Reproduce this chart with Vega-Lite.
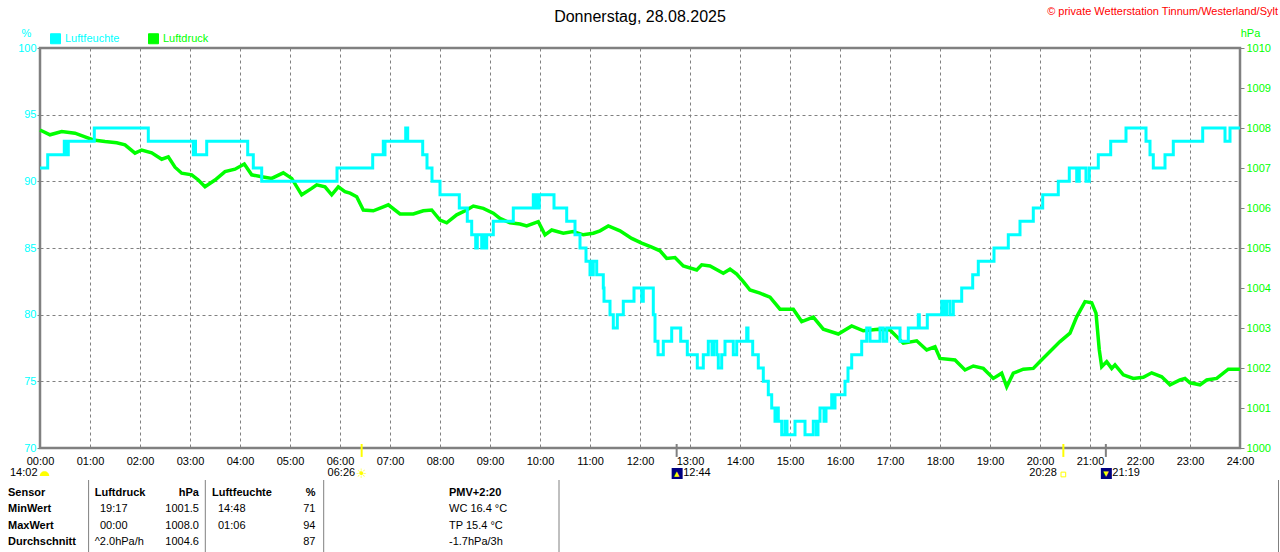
{
  "$schema": "https://vega.github.io/schema/vega-lite/v6.json",
  "width": 1200,
  "height": 400,
  "autosize": {"type": "none"},
  "padding": {"left": 40, "top": 48, "right": 40, "bottom": 104},
  "background": "white",
  "title": {
    "text": "Donnerstag, 28.08.2025",
    "anchor": "middle",
    "frame": "group",
    "font": "Liberation Sans",
    "fontSize": 16,
    "fontWeight": "normal",
    "color": "black",
    "offset": 2,
    "dy": 21
  },
  "datasets": {
    "feuchte": [
      {"h": 0, "rf": 91}, {"h": 0.154, "rf": 92}, {"h": 0.486, "rf": 93}, {"h": 0.51, "rf": 92},
      {"h": 0.53, "rf": 93}, {"h": 0.55, "rf": 92}, {"h": 0.566, "rf": 93}, {"h": 1.086, "rf": 94},
      {"h": 2.166, "rf": 93}, {"h": 3.066, "rf": 92}, {"h": 3.09, "rf": 93}, {"h": 3.11, "rf": 92},
      {"h": 3.334, "rf": 93}, {"h": 4.154, "rf": 92}, {"h": 4.266, "rf": 91}, {"h": 4.434, "rf": 90},
      {"h": 5.94, "rf": 91}, {"h": 6.654, "rf": 92}, {"h": 6.866, "rf": 93}, {"h": 6.88, "rf": 92},
      {"h": 6.9, "rf": 93}, {"h": 7.314, "rf": 94}, {"h": 7.354, "rf": 93}, {"h": 7.654, "rf": 92},
      {"h": 7.74, "rf": 91}, {"h": 7.84, "rf": 90}, {"h": 8.0, "rf": 89}, {"h": 8.386, "rf": 88},
      {"h": 8.546, "rf": 87}, {"h": 8.634, "rf": 86}, {"h": 8.714, "rf": 85}, {"h": 8.746, "rf": 86},
      {"h": 8.834, "rf": 85}, {"h": 8.87, "rf": 86}, {"h": 8.89, "rf": 85}, {"h": 8.934, "rf": 86},
      {"h": 9.066, "rf": 87}, {"h": 9.466, "rf": 88}, {"h": 9.866, "rf": 89}, {"h": 9.9, "rf": 88},
      {"h": 9.93, "rf": 89}, {"h": 9.96, "rf": 88}, {"h": 9.986, "rf": 89}, {"h": 10.28, "rf": 88},
      {"h": 10.534, "rf": 87}, {"h": 10.7, "rf": 86}, {"h": 10.8, "rf": 85}, {"h": 10.92, "rf": 84},
      {"h": 11.0, "rf": 83}, {"h": 11.02, "rf": 84}, {"h": 11.04, "rf": 83}, {"h": 11.066, "rf": 84},
      {"h": 11.134, "rf": 83}, {"h": 11.266, "rf": 82}, {"h": 11.28, "rf": 81}, {"h": 11.4, "rf": 80},
      {"h": 11.466, "rf": 79}, {"h": 11.546, "rf": 80}, {"h": 11.666, "rf": 81}, {"h": 11.88, "rf": 82},
      {"h": 12.034, "rf": 81}, {"h": 12.066, "rf": 82}, {"h": 12.266, "rf": 80}, {"h": 12.3, "rf": 78},
      {"h": 12.36, "rf": 77}, {"h": 12.466, "rf": 78}, {"h": 12.634, "rf": 79}, {"h": 12.814, "rf": 78},
      {"h": 12.946, "rf": 77}, {"h": 13.146, "rf": 76}, {"h": 13.266, "rf": 77}, {"h": 13.366, "rf": 78},
      {"h": 13.44, "rf": 77}, {"h": 13.47, "rf": 78}, {"h": 13.534, "rf": 77}, {"h": 13.566, "rf": 76},
      {"h": 13.634, "rf": 77}, {"h": 13.7, "rf": 78}, {"h": 13.866, "rf": 77}, {"h": 13.934, "rf": 78},
      {"h": 14.134, "rf": 79}, {"h": 14.16, "rf": 78}, {"h": 14.254, "rf": 77}, {"h": 14.366, "rf": 76},
      {"h": 14.466, "rf": 75}, {"h": 14.566, "rf": 74}, {"h": 14.634, "rf": 73}, {"h": 14.7, "rf": 72},
      {"h": 14.72, "rf": 73}, {"h": 14.766, "rf": 72}, {"h": 14.834, "rf": 71}, {"h": 14.9, "rf": 72},
      {"h": 14.94, "rf": 71}, {"h": 15.1, "rf": 72}, {"h": 15.3, "rf": 71}, {"h": 15.466, "rf": 72},
      {"h": 15.53, "rf": 71}, {"h": 15.56, "rf": 72}, {"h": 15.6, "rf": 73}, {"h": 15.68, "rf": 72},
      {"h": 15.72, "rf": 73}, {"h": 15.834, "rf": 74}, {"h": 15.87, "rf": 73}, {"h": 15.9, "rf": 74},
      {"h": 16.1, "rf": 75}, {"h": 16.16, "rf": 76}, {"h": 16.234, "rf": 77}, {"h": 16.434, "rf": 78},
      {"h": 16.534, "rf": 79}, {"h": 16.6, "rf": 78}, {"h": 16.8, "rf": 79}, {"h": 16.866, "rf": 78},
      {"h": 16.934, "rf": 79}, {"h": 17.2, "rf": 78}, {"h": 17.366, "rf": 79}, {"h": 17.566, "rf": 80},
      {"h": 17.586, "rf": 79}, {"h": 17.746, "rf": 80}, {"h": 18.034, "rf": 81}, {"h": 18.08, "rf": 80},
      {"h": 18.134, "rf": 81}, {"h": 18.2, "rf": 80}, {"h": 18.266, "rf": 81}, {"h": 18.434, "rf": 82},
      {"h": 18.654, "rf": 83}, {"h": 18.766, "rf": 84}, {"h": 19.08, "rf": 85}, {"h": 19.366, "rf": 86},
      {"h": 19.6, "rf": 87}, {"h": 19.866, "rf": 88}, {"h": 20.054, "rf": 89}, {"h": 20.366, "rf": 90},
      {"h": 20.586, "rf": 91}, {"h": 20.734, "rf": 90}, {"h": 20.786, "rf": 91}, {"h": 20.92, "rf": 90},
      {"h": 20.986, "rf": 91}, {"h": 21.166, "rf": 92}, {"h": 21.414, "rf": 93}, {"h": 21.72, "rf": 94},
      {"h": 22.12, "rf": 93}, {"h": 22.2, "rf": 92}, {"h": 22.266, "rf": 91}, {"h": 22.5, "rf": 92},
      {"h": 22.666, "rf": 93}, {"h": 23.254, "rf": 94}, {"h": 23.7, "rf": 93}, {"h": 23.8, "rf": 94},
      {"h": 24, "rf": 94}
    ],
    "druck": [
      {"h": 0, "p": 1007.95}, {"h": 0.2, "p": 1007.83}, {"h": 0.434, "p": 1007.91}, {"h": 0.7, "p": 1007.87},
      {"h": 0.9, "p": 1007.78}, {"h": 1.066, "p": 1007.7}, {"h": 1.3, "p": 1007.66}, {"h": 1.534, "p": 1007.63},
      {"h": 1.7, "p": 1007.58}, {"h": 1.9, "p": 1007.37}, {"h": 2.034, "p": 1007.45}, {"h": 2.234, "p": 1007.38},
      {"h": 2.434, "p": 1007.22}, {"h": 2.566, "p": 1007.28}, {"h": 2.7, "p": 1007.02}, {"h": 2.834, "p": 1006.87},
      {"h": 3.034, "p": 1006.83}, {"h": 3.166, "p": 1006.7}, {"h": 3.3, "p": 1006.53}, {"h": 3.5, "p": 1006.7},
      {"h": 3.7, "p": 1006.91}, {"h": 3.9, "p": 1006.97}, {"h": 4.086, "p": 1007.1}, {"h": 4.234, "p": 1006.83},
      {"h": 4.434, "p": 1006.78}, {"h": 4.634, "p": 1006.74}, {"h": 4.866, "p": 1006.88}, {"h": 5.034, "p": 1006.74},
      {"h": 5.234, "p": 1006.33}, {"h": 5.434, "p": 1006.49}, {"h": 5.534, "p": 1006.58}, {"h": 5.7, "p": 1006.53},
      {"h": 5.834, "p": 1006.33}, {"h": 5.966, "p": 1006.53}, {"h": 6.1, "p": 1006.41}, {"h": 6.2, "p": 1006.37},
      {"h": 6.334, "p": 1006.28}, {"h": 6.466, "p": 1005.95}, {"h": 6.666, "p": 1005.93}, {"h": 6.866, "p": 1006.03},
      {"h": 6.966, "p": 1006.08}, {"h": 7.2, "p": 1005.85}, {"h": 7.466, "p": 1005.85}, {"h": 7.666, "p": 1005.93},
      {"h": 7.834, "p": 1005.95}, {"h": 8.0, "p": 1005.7}, {"h": 8.134, "p": 1005.63}, {"h": 8.334, "p": 1005.83},
      {"h": 8.534, "p": 1005.95}, {"h": 8.666, "p": 1006.05}, {"h": 8.866, "p": 1005.99}, {"h": 9.066, "p": 1005.87},
      {"h": 9.2, "p": 1005.74}, {"h": 9.4, "p": 1005.63}, {"h": 9.6, "p": 1005.6}, {"h": 9.734, "p": 1005.55},
      {"h": 9.966, "p": 1005.66}, {"h": 10.1, "p": 1005.33}, {"h": 10.234, "p": 1005.45}, {"h": 10.466, "p": 1005.37},
      {"h": 10.666, "p": 1005.41}, {"h": 10.866, "p": 1005.33}, {"h": 11.066, "p": 1005.37}, {"h": 11.2, "p": 1005.43},
      {"h": 11.366, "p": 1005.55}, {"h": 11.6, "p": 1005.43}, {"h": 11.834, "p": 1005.24}, {"h": 12.034, "p": 1005.12},
      {"h": 12.234, "p": 1005.02}, {"h": 12.4, "p": 1004.93}, {"h": 12.534, "p": 1004.74}, {"h": 12.7, "p": 1004.76},
      {"h": 12.866, "p": 1004.55}, {"h": 13.134, "p": 1004.45}, {"h": 13.234, "p": 1004.58}, {"h": 13.4, "p": 1004.55},
      {"h": 13.666, "p": 1004.37}, {"h": 13.8, "p": 1004.47}, {"h": 13.934, "p": 1004.35}, {"h": 14.066, "p": 1004.16},
      {"h": 14.2, "p": 1003.95}, {"h": 14.4, "p": 1003.87}, {"h": 14.6, "p": 1003.77}, {"h": 14.8, "p": 1003.47},
      {"h": 15.066, "p": 1003.47}, {"h": 15.234, "p": 1003.16}, {"h": 15.466, "p": 1003.27}, {"h": 15.666, "p": 1002.97},
      {"h": 15.966, "p": 1002.85}, {"h": 16.234, "p": 1003.05}, {"h": 16.466, "p": 1002.93}, {"h": 16.766, "p": 1002.97},
      {"h": 17.0, "p": 1002.95}, {"h": 17.266, "p": 1002.62}, {"h": 17.534, "p": 1002.68}, {"h": 17.734, "p": 1002.45},
      {"h": 17.9, "p": 1002.53}, {"h": 18.0, "p": 1002.24}, {"h": 18.3, "p": 1002.2}, {"h": 18.5, "p": 1001.95},
      {"h": 18.666, "p": 1002.05}, {"h": 18.866, "p": 1001.99}, {"h": 19.066, "p": 1001.74}, {"h": 19.234, "p": 1001.87},
      {"h": 19.334, "p": 1001.53}, {"h": 19.466, "p": 1001.87}, {"h": 19.666, "p": 1001.97}, {"h": 19.866, "p": 1001.99},
      {"h": 20.0, "p": 1002.16}, {"h": 20.2, "p": 1002.41}, {"h": 20.4, "p": 1002.66}, {"h": 20.6, "p": 1002.87},
      {"h": 20.734, "p": 1003.28}, {"h": 20.9, "p": 1003.66}, {"h": 21.034, "p": 1003.63}, {"h": 21.12, "p": 1003.37},
      {"h": 21.186, "p": 1002.45}, {"h": 21.234, "p": 1002.03}, {"h": 21.334, "p": 1002.16}, {"h": 21.434, "p": 1001.99},
      {"h": 21.5, "p": 1002.08}, {"h": 21.666, "p": 1001.83}, {"h": 21.866, "p": 1001.74}, {"h": 22.066, "p": 1001.77},
      {"h": 22.234, "p": 1001.88}, {"h": 22.434, "p": 1001.78}, {"h": 22.6, "p": 1001.58}, {"h": 22.8, "p": 1001.7},
      {"h": 22.9, "p": 1001.74}, {"h": 23.0, "p": 1001.63}, {"h": 23.2, "p": 1001.58}, {"h": 23.334, "p": 1001.7},
      {"h": 23.534, "p": 1001.74}, {"h": 23.766, "p": 1001.97}, {"h": 24, "p": 1001.97}
    ],
    "ereignisse": [
      {"typ": "Tageslänge", "h": 0, "zeit": "14:02"},
      {"typ": "Sonnenaufgang", "h": 6.433, "zeit": "06:26"},
      {"typ": "Mondaufgang", "h": 12.733, "zeit": "12:44"},
      {"typ": "Sonnenuntergang", "h": 20.467, "zeit": "20:28"},
      {"typ": "Monduntergang", "h": 21.317, "zeit": "21:19"}
    ],
    "tabelle": [
      {"zeile": "Sensor", "druck_zeit": "Luftdruck", "druck": "hPa", "feuchte_zeit": "Luftfeuchte", "feuchte": "%", "info": "PMV+2:20"},
      {"zeile": "MinWert", "druck_zeit": "19:17", "druck": "1001.5", "feuchte_zeit": "14:48", "feuchte": "71", "info": "WC 16.4 °C"},
      {"zeile": "MaxWert", "druck_zeit": "00:00", "druck": "1008.0", "feuchte_zeit": "01:06", "feuchte": "94", "info": "TP 15.4 °C"},
      {"zeile": "Durchschnitt", "druck_zeit": "^2.0hPa/h", "druck": "1004.6", "feuchte_zeit": "", "feuchte": "87", "info": "-1.7hPa/3h"}
    ]
  },
  "layer": [
    {
      "data": {"name": "druck"},
      "mark": {"type": "line", "strokeWidth": 3.5},
      "encoding": {
        "x": {"field": "h", "type": "quantitative", "title": null, "scale": {"domain": [0, 24], "nice": false, "zero": false}},
        "y": {
          "field": "p",
          "type": "quantitative",
          "scale": {"domain": [1000, 1010], "nice": false, "zero": false},
          "axis": {
            "orient": "right",
            "values": [1000, 1001, 1002, 1003, 1004, 1005, 1006, 1007, 1008, 1009, 1010],
            "format": "d",
            "grid": false,
            "domain": false,
            "tickSize": 4,
            "tickColor": "#808080",
            "labelColor": "#00FF00",
            "labelPadding": 2,
            "title": "hPa",
            "titleAngle": 0,
            "titleAlign": "center",
            "titleBaseline": "middle",
            "titleX": 10,
            "titleY": -15,
            "titleColor": "#00FF00",
            "titleFontWeight": "normal",
            "titleFontSize": 11
          }
        },
        "color": {"datum": "Luftdruck"}
      }
    },
    {
      "data": {"name": "feuchte"},
      "mark": {"type": "line", "interpolate": "step-after", "strokeWidth": 3},
      "encoding": {
        "x": {"field": "h", "type": "quantitative", "title": null, "scale": {"domain": [0, 24], "nice": false, "zero": false}},
        "y": {
          "field": "rf",
          "type": "quantitative",
          "scale": {"domain": [70, 100], "nice": false, "zero": false},
          "axis": {
            "orient": "left",
            "values": [70, 75, 80, 85, 90, 95, 100],
            "grid": true,
            "domain": false,
            "tickSize": 3,
            "tickColor": "#808080",
            "labelColor": "#00FFFF",
            "labelPadding": 1,
            "title": "%",
            "titleAngle": 0,
            "titleAlign": "center",
            "titleBaseline": "middle",
            "titleX": -14,
            "titleY": -15,
            "titleColor": "#00FFFF",
            "titleFontWeight": "normal",
            "titleFontSize": 11
          }
        },
        "color": {
          "datum": "Luftfeuchte",
          "scale": {"domain": ["Luftfeuchte", "Luftdruck"], "range": ["#00FFFF", "#00FF00"]},
          "legend": {
            "orient": "none",
            "legendX": 10,
            "legendY": -15,
            "direction": "horizontal",
            "title": null,
            "padding": 0,
            "symbolType": "square",
            "symbolSize": 100,
            "symbolStrokeColor": "black",
            "symbolStrokeWidth": 1,
            "labelFont": "Liberation Sans",
            "labelFontSize": 11,
            "labelOffset": 4,
            "columnPadding": 26,
            "encode": {
              "symbols": {"update": {"fill": {"scale": "color", "field": "value"}, "stroke": {"value": "black"}, "strokeWidth": {"value": 1}, "opacity": {"value": 1}}},
              "labels": {"update": {"fill": {"scale": "color", "field": "value"}}}
            }
          }
        }
      }
    },
    {
      "data": {"values": [{"text": "© private Wetterstation Tinnum/Westerland/Sylt"}]},
      "mark": {"type": "text", "align": "right", "baseline": "middle", "color": "#FF0000", "fontSize": 11},
      "encoding": {
        "x": {"datum": 24.76},
        "y": {"datum": 102.7, "scale": {"domain": [70, 100]}, "axis": null},
        "text": {"field": "text"}
      }
    },
    {
      "data": {"name": "ereignisse"},
      "encoding": {
        "x": {"field": "h", "type": "quantitative", "title": null},
        "y": {"datum": 68.125, "scale": {"domain": [70, 100]}, "axis": null}
      },
      "layer": [
        {
          "transform": [{"filter": "datum.typ == 'Sonnenaufgang' || datum.typ == 'Sonnenuntergang'"}],
          "mark": {"type": "rule", "color": "#FFFF00", "strokeWidth": 2},
          "encoding": {"y": {"datum": 70.3, "scale": {"domain": [70, 100]}, "axis": null}, "y2": {"datum": 69.33}}
        },
        {
          "transform": [{"filter": "datum.typ == 'Mondaufgang' || datum.typ == 'Monduntergang'"}],
          "mark": {"type": "rule", "color": "#808080", "strokeWidth": 2},
          "encoding": {"y": {"datum": 70.3, "scale": {"domain": [70, 100]}, "axis": null}, "y2": {"datum": 69.33}}
        },
        {
          "transform": [{"filter": "datum.typ == 'Sonnenaufgang' || datum.typ == 'Sonnenuntergang'"}],
          "mark": {"type": "text", "align": "right", "baseline": "middle", "dx": -6.5, "fontSize": 11, "color": "black"},
          "encoding": {"text": {"field": "zeit"}}
        },
        {
          "transform": [{"filter": "datum.typ == 'Mondaufgang' || datum.typ == 'Monduntergang'"}],
          "mark": {"type": "text", "align": "left", "baseline": "middle", "dx": 6.5, "fontSize": 11, "color": "black"},
          "encoding": {"text": {"field": "zeit"}}
        },
        {
          "transform": [{"filter": "datum.typ == 'Tageslänge'"}],
          "mark": {"type": "text", "align": "right", "baseline": "middle", "dx": -2.5, "fontSize": 11, "color": "black"},
          "encoding": {"text": {"field": "zeit"}}
        },
        {
          "transform": [{"filter": "datum.typ == 'Tageslänge'"}],
          "mark": {"type": "point", "shape": "M-1,0.4A1,1 0 0 1 1,0.4Z", "filled": true, "color": "#FFFF00", "opacity": 1, "size": 90, "xOffset": 4.5, "yOffset": 1}
        },
        {
          "transform": [{"filter": "datum.typ == 'Sonnenaufgang'"}],
          "mark": {"type": "text", "font": "DejaVu Sans", "fontSize": 13, "color": "#FFFF00", "baseline": "middle", "yOffset": 1},
          "encoding": {"text": {"value": "☀"}}
        },
        {
          "transform": [{"filter": "datum.typ == 'Sonnenuntergang'"}],
          "mark": {"type": "point", "shape": "square", "filled": false, "color": "#FFFF00", "opacity": 1, "size": 22, "strokeWidth": 1, "yOffset": 1.5}
        },
        {
          "transform": [{"filter": "datum.typ == 'Mondaufgang' || datum.typ == 'Monduntergang'"}],
          "mark": {"type": "point", "shape": "square", "filled": true, "color": "#000080", "opacity": 1, "size": 121, "xOffset": 0.5, "yOffset": 0.5}
        },
        {
          "transform": [{"filter": "datum.typ == 'Mondaufgang' || datum.typ == 'Monduntergang'"}],
          "mark": {"type": "text", "font": "DejaVu Sans", "fontSize": 7, "color": "#FFFF00", "baseline": "middle", "yOffset": 1},
          "encoding": {"text": {"condition": {"test": "datum.typ == 'Mondaufgang'", "value": "▲"}, "value": "▼"}}
        }
      ]
    },
    {
      "data": {"values": [{}]},
      "encoding": {
        "y": {"datum": 67.6, "scale": {"domain": [70, 100]}, "axis": null},
        "y2": {"datum": 62.2}
      },
      "layer": [
        {"mark": {"type": "rule", "color": "#808080", "strokeWidth": 1}, "encoding": {"x": {"datum": 0.972}}},
        {"mark": {"type": "rule", "color": "#808080", "strokeWidth": 1}, "encoding": {"x": {"datum": 3.306}}},
        {"mark": {"type": "rule", "color": "#808080", "strokeWidth": 1}, "encoding": {"x": {"datum": 5.674}}},
        {"mark": {"type": "rule", "color": "#808080", "strokeWidth": 1}, "encoding": {"x": {"datum": 10.38}}},
        {"mark": {"type": "rule", "color": "#808080", "strokeWidth": 1}, "encoding": {"x": {"datum": 24.77}}}
      ]
    },
    {
      "data": {"name": "tabelle"},
      "encoding": {
        "y": {
          "field": "zeile",
          "type": "nominal",
          "sort": null,
          "scale": {"type": "point", "domain": ["Sensor", "MinWert", "MaxWert", "Durchschnitt"], "range": [445, 494], "padding": 0},
          "axis": null
        }
      },
      "layer": [
        {
          "mark": {"type": "text", "align": "left", "baseline": "middle", "fontSize": 11, "fontWeight": "bold", "color": "black"},
          "encoding": {"x": {"datum": -0.64}, "text": {"field": "zeile"}}
        },
        {
          "transform": [{"filter": "datum.zeile == 'Sensor'"}],
          "mark": {"type": "text", "align": "left", "baseline": "middle", "fontSize": 11, "fontWeight": "bold", "color": "black"},
          "encoding": {"x": {"datum": 1.094}, "text": {"field": "druck_zeit"}}
        },
        {
          "transform": [{"filter": "datum.zeile == 'MinWert' || datum.zeile == 'MaxWert'"}],
          "mark": {"type": "text", "align": "left", "baseline": "middle", "fontSize": 11, "color": "black"},
          "encoding": {"x": {"datum": 1.2}, "text": {"field": "druck_zeit"}}
        },
        {
          "transform": [{"filter": "datum.zeile == 'Durchschnitt'"}],
          "mark": {"type": "text", "align": "left", "baseline": "middle", "fontSize": 11, "color": "black"},
          "encoding": {"x": {"datum": 1.094}, "text": {"field": "druck_zeit"}}
        },
        {
          "transform": [{"filter": "datum.zeile == 'Sensor'"}],
          "mark": {"type": "text", "align": "right", "baseline": "middle", "fontSize": 11, "fontWeight": "bold", "color": "black"},
          "encoding": {"x": {"datum": 3.18}, "text": {"field": "druck"}}
        },
        {
          "transform": [{"filter": "datum.zeile != 'Sensor'"}],
          "mark": {"type": "text", "align": "right", "baseline": "middle", "fontSize": 11, "color": "black"},
          "encoding": {"x": {"datum": 3.18}, "text": {"field": "druck"}}
        },
        {
          "transform": [{"filter": "datum.zeile == 'Sensor'"}],
          "mark": {"type": "text", "align": "left", "baseline": "middle", "fontSize": 11, "fontWeight": "bold", "color": "black"},
          "encoding": {"x": {"datum": 3.44}, "text": {"field": "feuchte_zeit"}}
        },
        {
          "transform": [{"filter": "datum.zeile != 'Sensor'"}],
          "mark": {"type": "text", "align": "left", "baseline": "middle", "fontSize": 11, "color": "black"},
          "encoding": {"x": {"datum": 3.56}, "text": {"field": "feuchte_zeit"}}
        },
        {
          "transform": [{"filter": "datum.zeile == 'Sensor'"}],
          "mark": {"type": "text", "align": "right", "baseline": "middle", "fontSize": 11, "fontWeight": "bold", "color": "black"},
          "encoding": {"x": {"datum": 5.51}, "text": {"field": "feuchte"}}
        },
        {
          "transform": [{"filter": "datum.zeile != 'Sensor'"}],
          "mark": {"type": "text", "align": "right", "baseline": "middle", "fontSize": 11, "color": "black"},
          "encoding": {"x": {"datum": 5.51}, "text": {"field": "feuchte"}}
        },
        {
          "transform": [{"filter": "datum.zeile == 'Sensor'"}],
          "mark": {"type": "text", "align": "left", "baseline": "middle", "fontSize": 11, "fontWeight": "bold", "color": "black"},
          "encoding": {"x": {"datum": 8.18}, "text": {"field": "info"}}
        },
        {
          "transform": [{"filter": "datum.zeile != 'Sensor'"}],
          "mark": {"type": "text", "align": "left", "baseline": "middle", "fontSize": 11, "color": "black"},
          "encoding": {"x": {"datum": 8.18}, "text": {"field": "info"}}
        }
      ]
    }
  ],
  "resolve": {"scale": {"y": "independent"}},
  "config": {
    "font": "Liberation Sans",
    "view": {"stroke": "#808080", "strokeWidth": 2.5},
    "text": {"font": "Liberation Sans", "fontSize": 11},
    "axis": {
      "grid": false,
      "domain": false,
      "labelFont": "Liberation Sans",
      "labelFontSize": 11,
      "titleFont": "Liberation Sans",
      "tickColor": "#808080",
      "gridColor": "#808080",
      "gridDash": [3, 3],
      "gridWidth": 1,
      "gridOpacity": 1
    },
    "axisX": {
      "tickCount": 24,
      "grid": true,
      "ticks": false,
      "labelPadding": 7,
      "labelColor": "black",
      "labelFlush": false,
      "labelOverlap": false,
      "labelExpr": "(datum.value < 10 ? '0' : '') + datum.value + ':00'"
    }
  }
}
